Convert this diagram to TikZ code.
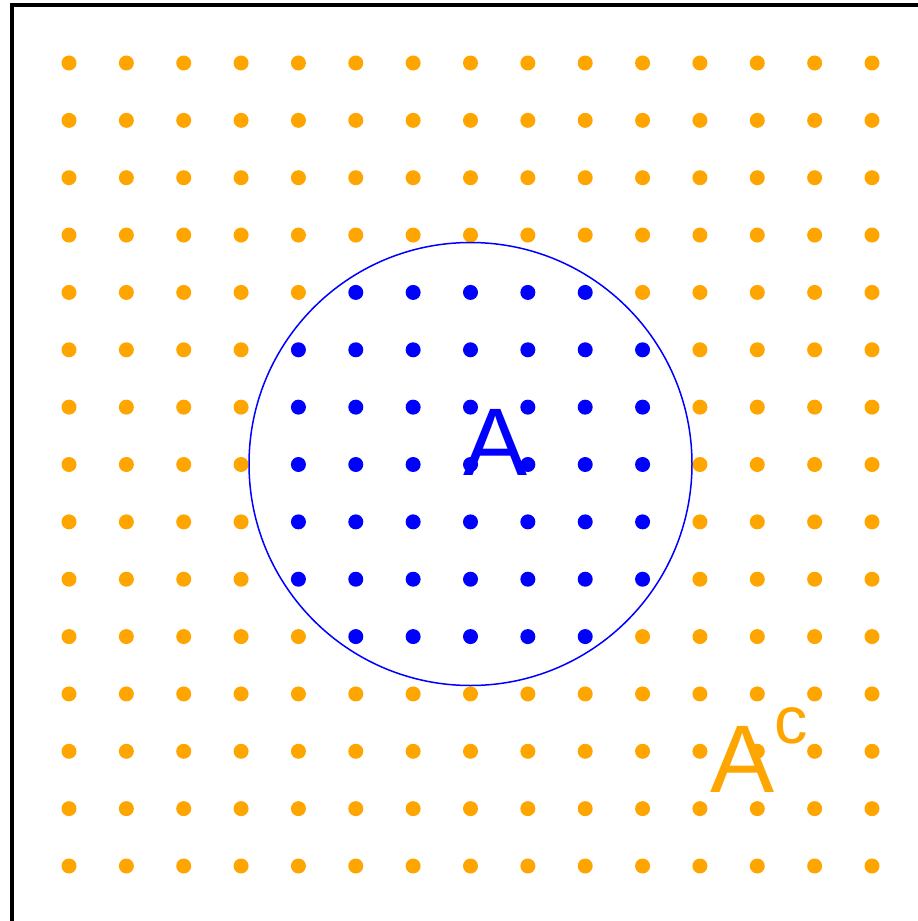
\documentclass[tikz,border=0pt]{standalone}
\usepackage{fontspec}
\setmainfont{Liberation Sans}
\definecolor{setorange}{HTML}{FFA500}
\definecolor{setblue}{HTML}{0000FF}
\begin{document}
\begin{tikzpicture}[x=0.03cm,y=-0.03cm,
  frameline/.style={draw=black,line width=0.12cm},
  dotstyle/.style={fill=#1},
  setcircle/.style={draw=setblue,line width=0.045cm},
  biglabel/.style={inner sep=0pt,anchor=base west,font=\fontsize{82pt}{82pt}\selectfont}]
\useasboundingbox (0,0) rectangle (917,921);
\draw[frameline] (12,935) -- (12,5) -- (930,5);
\foreach \i in {-7,...,7}{
  \foreach \j in {-7,...,7}{
    \pgfmathtruncatemacro\d{\i*\i+\j*\j}
    \ifnum\d<14 \def\dc{setblue}\else\def\dc{setorange}\fi
    \fill[dotstyle=\dc] ({470.5+57.357*\i},{464.5+57.357*\j}) circle[radius=7.5];
  }
}
\coordinate (ctr) at (470.5,464);
\draw[setcircle] (ctr) circle[radius=221.5];
\node[biglabel,text=setblue] (setA) at (463,475) {A};
\node[biglabel,text=setorange] (setAc) at (710,792) {A\raisebox{1.47cm}{\fontsize{57pt}{57pt}\selectfont c}};
\end{tikzpicture}
\end{document}
